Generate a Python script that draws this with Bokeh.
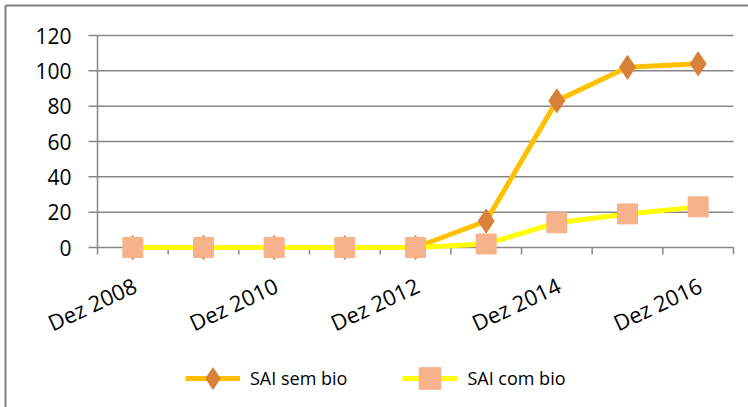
from bokeh.plotting import figure
from bokeh.models import Legend, LegendItem
from bokeh.core.properties import value
from bokeh.embed import file_html
from bokeh.resources import INLINE

categories = ["Dez 2008", "Dez 2009", "Dez 2010", "Dez 2011", "Dez 2012",
              "Dez 2013", "Dez 2014", "Dez 2015", "Dez 2016"]
sai_sem_bio = [0, 0, 0, 0, 0, 15, 83, 102, 104]
sai_com_bio = [0, 0, 0, 0, 0, 2, 14, 19, 23]
y_ticks = [0, 20, 40, 60, 80, 100, 120]
y_tick_labels = ["0", "20", "40", "60", "80", "100", "120"]
shown_labels = ["Dez 2008", "Dez 2010", "Dez 2012", "Dez 2014", "Dez 2016"]

# ---- layout (pixels, page coords) ----
W, H = 748, 407
ORG = 0
PLOT_L, PLOT_R = 97, 733     # category area
Y0_PX, YTOP_PX = 247, 35     # pixel rows of y=0 and y=120
BORDER = 5                   # chart border line position

n = len(categories)
x_start, x_end = -0.5, n - 0.5
ppx = (PLOT_R - PLOT_L) / (x_end - x_start)
ppy = (Y0_PX - YTOP_PX) / (y_ticks[-1] - y_ticks[0])
xr = (x_start - (PLOT_L - ORG) / ppx, x_end + (ORG + W - PLOT_R) / ppx)
yr = (-(ORG + H - Y0_PX) / ppy, (Y0_PX - ORG) / ppy)
bx = xr[0] + (BORDER - ORG) / ppx
by = yr[1] - (BORDER - ORG) / ppy

FONT = value("Open Sans")
GRID = "#868686"

p = figure(width=W, height=H, output_backend="svg", toolbar_location=None,
           x_range=xr, y_range=yr, x_axis_location=None, y_axis_location=None,
           min_border=0)
p.outline_line_color = None
p.grid.grid_line_color = None
p.background_fill_color = "white"
p.border_fill_color = "white"

# chart border (left and top)
p.segment(x0=[bx, bx], y0=[yr[0], by], x1=[bx, xr[1]], y1=[by, by],
          line_color="#7f7f7f", line_width=2)

# horizontal grid lines
p.segment(x0=[x_start] * len(y_ticks), y0=y_ticks, x1=[x_end] * len(y_ticks), y1=y_ticks,
          line_color=GRID, line_width=1.5)
# y axis line and ticks
tick_y = 9 / ppx
p.segment(x0=[x_start], y0=[y_ticks[0]], x1=[x_start], y1=[y_ticks[-1]],
          line_color=GRID, line_width=1.5)
p.segment(x0=[x_start - tick_y] * len(y_ticks), y0=y_ticks, x1=[x_start] * len(y_ticks),
          y1=y_ticks, line_color=GRID, line_width=1.5)
p.text(x=[x_start] * len(y_ticks), y=y_ticks, text=y_tick_labels, x_offset=-26,
       text_align="right", text_baseline="middle", text_font=FONT,
       text_font_size="21px", text_color="black")
# x axis boundary ticks
bounds = [i - 0.5 for i in range(n + 1)]
tick_x = 7 / ppy
p.segment(x0=bounds, y0=[0] * len(bounds), x1=bounds, y1=[-tick_x] * len(bounds),
          line_color=GRID, line_width=1.5)
label_pos = [categories.index(c) for c in shown_labels]
p.text(x=label_pos, y=[0] * len(label_pos), text=shown_labels, angle=0.436,
       x_offset=2, y_offset=36, text_align="right", text_baseline="middle",
       text_font=FONT, text_font_size="22px", text_color="black")

xs = list(range(n))
l1 = p.line(xs, sai_sem_bio, line_color="#FFC000", line_width=5, line_join="round")
m1 = p.scatter(xs, sai_sem_bio, marker="diamond", size=24,
               fill_color="#D98139", line_color="#D98139")
l2 = p.line(xs, sai_com_bio, line_color="#FFFF00", line_width=5, line_join="round")
m2 = p.scatter(xs, sai_com_bio, marker="square", size=20,
               fill_color="#F6B28B", line_color="#F6B28B")

legend = Legend(items=[LegendItem(label="SAI sem bio", renderers=[l1, m1]),
                       LegendItem(label="SAI com bio", renderers=[l2, m2])],
                orientation="horizontal", location=(185 - ORG, ORG + H - 405),
                glyph_width=55, glyph_height=54, label_standoff=10, spacing=55,
                padding=0, margin=0, border_line_color=None,
                background_fill_alpha=0,
                label_text_font="Open Sans", label_text_font_size="18px",
                label_text_color="black")
p.add_layout(legend, "center")

open("out.html", "w").write(file_html(p, INLINE))
